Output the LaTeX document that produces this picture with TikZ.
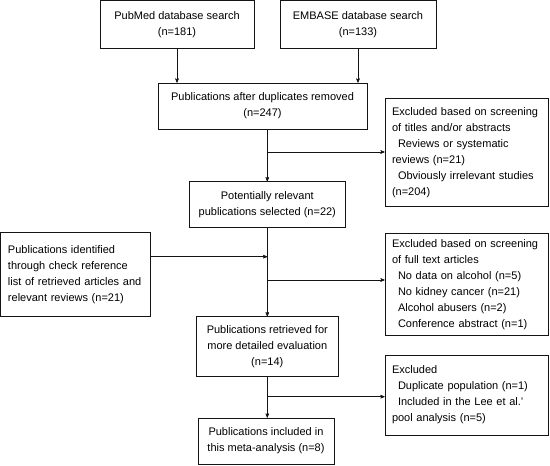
\documentclass[tikz,border=0pt]{standalone}
\usepackage{fontspec}
\setmainfont{Liberation Sans}
\usepackage{tikz}
\usetikzlibrary{arrows}
\definecolor{line_gray}{RGB}{20,20,20}

\begin{document}
\begin{tikzpicture}[x=1pt,y=-1pt,semithick,>=stealth',line_gray]
    \tikzstyle{box}=[draw=line_gray, rectangle, inner sep=0pt, text=black, font=\fontsize{11}{16}\selectfont]
    \tikzstyle{mid}=[style=box, align=center]
    \tikzstyle{side}=[style=box, align=left, inner xsep=7pt, minimum width=163.5, text width=149.5]
    \useasboundingbox (0,0) rectangle (550,466);

    \node[mid, minimum width=154, minimum height=48] (pubmed) at (177,24.5)
        {PubMed database search\\(n=181)};
    \node[mid, minimum width=156, minimum height=48] (embase) at (358,24.5)
        {EMBASE database search\\(n=133)};
    \node[mid, minimum width=209, minimum height=46] (dup) at (262.5,106)
        {Publications after duplicates removed\\(n=247)};
    \node[side, minimum height=108.7] (excl1) at (466.75,152.3)
        {Excluded based on screening\\of titles and/or abstracts\\
         \hspace*{6pt}Reviews or systematic\\reviews (n=21)\\
         \hspace*{6pt}Obviously irrelevant studies\\(n=204)};
    \node[mid, minimum width=156, minimum height=45.6] (pot) at (267.3,204.5)
        {Potentially relevant\\publications selected (n=22)};
    \node[box, align=left, inner xsep=7.5pt, minimum width=150.2, text width=135.2, minimum height=84] (refs) at (75.6,274.7)
        {Publications identified\\through check reference\\list of retrieved articles and\\relevant reviews (n=21)};
    \node[side, minimum height=101.7] (excl2) at (466.75,284.2)
        {Excluded based on screening\\of full text articles\\
         \hspace*{6pt}No data on alcohol (n=5)\\
         \hspace*{6pt}No kidney cancer (n=21)\\
         \hspace*{6pt}Alcohol abusers (n=2)\\
         \hspace*{6pt}Conference abstract (n=1)};
    \node[mid, minimum width=142, minimum height=60] (ret) at (267.3,346.7)
        {Publications retrieved for\\more detailed evaluation\\(n=14)};
    \node[side, minimum height=80] (excl3) at (466.75,395)
        {Excluded\\
         \hspace*{6pt}Duplicate population (n=1)\\
         \hspace*{6pt}Included in the Lee et al.'\\pool analysis (n=5)};
    \node[mid, minimum width=136, minimum height=46] (incl) at (266,441)
        {Publications included in\\this meta-analysis (n=8)};

    % branch points on the main line
    \coordinate (j1) at (267.3,152);
    \coordinate (j2) at (267.3,256.7);
    \coordinate (j3) at (267.3,280);
    \coordinate (j4) at (267.3,396.7);

    \path[->]
     (pubmed) edge (pubmed.south |- dup.north)
     (embase) edge (embase.south |- dup.north)
     (dup.south -| pot.north) edge (pot.north)
     (j1) edge (j1 -| excl1.west)
     (pot.south) edge (ret.north)
     (refs.east |- j2) edge (j2)
     (j3) edge (j3 -| excl2.west)
     (ret.south) edge (ret.south |- incl.north)
     (j4) edge (j4 -| excl3.west)
     ;
\end{tikzpicture}
\end{document}
